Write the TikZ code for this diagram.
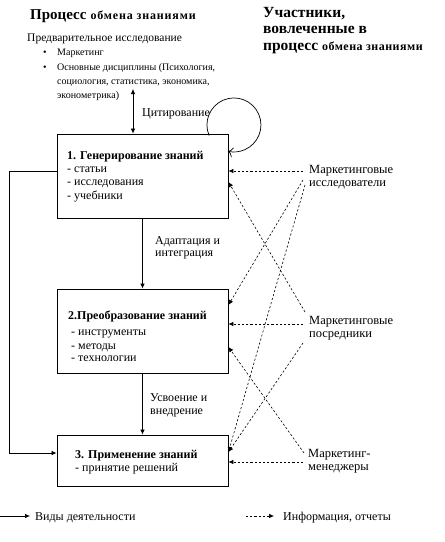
\documentclass[tikz,border=0pt]{standalone}
\usepackage{fontspec}
\setmainfont{Liberation Serif}
\usetikzlibrary{arrows.meta}
\begin{document}
\begin{tikzpicture}[x=1pt,y=-1pt,
  box/.style={draw,line width=0.9pt,minimum width=171pt,inner sep=0},
  txt/.style={anchor=base west,inner sep=0,font=\fontsize{12}{13}\selectfont},
  small/.style={anchor=base west,inner sep=0,font=\fontsize{10}{12}\selectfont},
  lbl/.style={anchor=west,inner sep=0,align=left,font=\fontsize{12.5}{13.5}\selectfont},
  act/.style={line width=0.7pt,-{Latex[length=5pt,width=4.5pt]}},
  info/.style={line width=0.6pt,dash pattern=on 2.2pt off 2pt,-{Latex[length=5pt,width=4.5pt]}},
]
\useasboundingbox (0,0) rectangle (445,542);
% titles
\node[anchor=base west,inner sep=0,font=\bfseries] (t1) at (30,19) {{\fontsize{15}{17}\selectfont Процесс}\hspace{4pt}{\fontsize{12}{14}\selectfont\addfontfeatures{LetterSpace=7} обмена знаниями}};
\node[anchor=north west,inner sep=0,align=left,font=\bfseries\fontsize{15.5}{16.5}\selectfont] (t2) at (263,7) {Участники,\\вовлеченные в\\процесс {\fontsize{12}{14}\selectfont\addfontfeatures{LetterSpace=4}обмена знаниями}};
% preliminary research
\node[txt,font=\fontsize{11.5}{13}\selectfont] (pre) at (27,41) {Предварительное исследование};
\node[small] (bu1) at (43,55) {•};
\node[small] (m1) at (57,55) {Маркетинг};
\node[small] (bu2) at (43,70) {•};
\node[small] (m2) at (57,70) {Основные дисциплины (Психология,};
\node[small] (m3) at (57,84) {социология, статистика, экономика,};
\node[small] (m4) at (57,98) {эконометрика)};
\node[txt] (cit) at (142,116) {Цитирование};
% boxes
\node[box,minimum height=84pt] (b1) at (142.5,176) {};
\node[box,minimum height=84pt] (b2) at (142.5,331) {};
\node[box,minimum height=51pt] (b3) at (142.5,460.5) {};
% box texts
\node[txt,font=\bfseries\fontsize{12}{13}\selectfont] (b1t) at (67,159) {1. Генерирование знаний};
\node[txt] (b1a) at (67,172) {- статьи};
\node[txt] (b1b) at (67,185) {- исследования};
\node[txt] (b1c) at (67,199) {- учебники};
\node[txt,font=\bfseries\fontsize{12}{13}\selectfont] (b2t) at (68,319) {2.Преобразование знаний};
\node[txt] (b2a) at (71,335) {- инструменты};
\node[txt] (b2b) at (71,349) {- методы};
\node[txt] (b2c) at (71,361) {- технологии};
\node[txt,font=\bfseries\fontsize{12}{13}\selectfont] (b3t) at (75,458) {3. Применение знаний};
\node[txt] (b3a) at (75,471) {- принятие решений};
% between-box labels
\node[txt] (ad1) at (155,244) {Адаптация и};
\node[txt] (ad2) at (155,256) {интеграция};
\node[txt] (us1) at (150,401) {Усвоение и};
\node[txt] (us2) at (150,414) {внедрение};
% participants
\node[lbl] (R) at (309,177) {Маркетинговые\\исследователи};
\node[lbl] (I) at (309,328) {Маркетинговые\\посредники};
\node[lbl] (M) at (308,461) {Маркетинг-\\менеджеры};
% activity arrows
\draw[act] (b1) -- (b2);
\draw[act] (b2) -- (b3);
\coordinate (ct) at (133,89);
\draw[line width=0.7pt,{Latex[length=5pt,width=4.5pt]}-{Latex[length=5pt,width=4.5pt]}] (ct) -- (ct |- b1.north);
\draw[act] (b1.west |- 0,171) -- (9,171) -- (9,453) -- (b3.west |- 0,453);
\draw[line width=0.7pt,-{To[length=5pt,width=10pt]}] (209.1,135.5) arc[start angle=157,end angle=463,radius=27];
% information arrows
\coordinate (r1) at (303,171);
\coordinate (r2) at (303,180);
\coordinate (r3) at (305,185);
\coordinate (i1) at (303,324);
\coordinate (i2) at (305,312);
\coordinate (i3) at (303,343);
\coordinate (m1c) at (303,462);
\coordinate (m2c) at (304,453);
\draw[info] (r1) -- (b1.east |- r1);
\draw[info] (r2) -- (b2.east |- 0,305);
\draw[info] (r3) -- (b3.east |- 0,452);
\draw[info] (i1) -- (b2.east |- i1);
\draw[info] (i2) -- (b1.east |- 0,182);
\draw[info] (i3) -- (b3.east |- 0,452);
\draw[info] (m1c) -- (b3.east |- m1c);
\draw[info] (m2c) -- (b2.east |- 0,347);
% legend
\coordinate (la) at (0,516);
\coordinate (la2) at (30,516);
\coordinate (lb) at (246,516);
\coordinate (lb2) at (274,516);
\node[txt] (l1) at (35,520) {Виды деятельности};
\node[txt] (l2) at (283,520) {Информация, отчеты};
\draw[act] (la) -- (la2);
\draw[info] (lb) -- (lb2);
\end{tikzpicture}
\end{document}
